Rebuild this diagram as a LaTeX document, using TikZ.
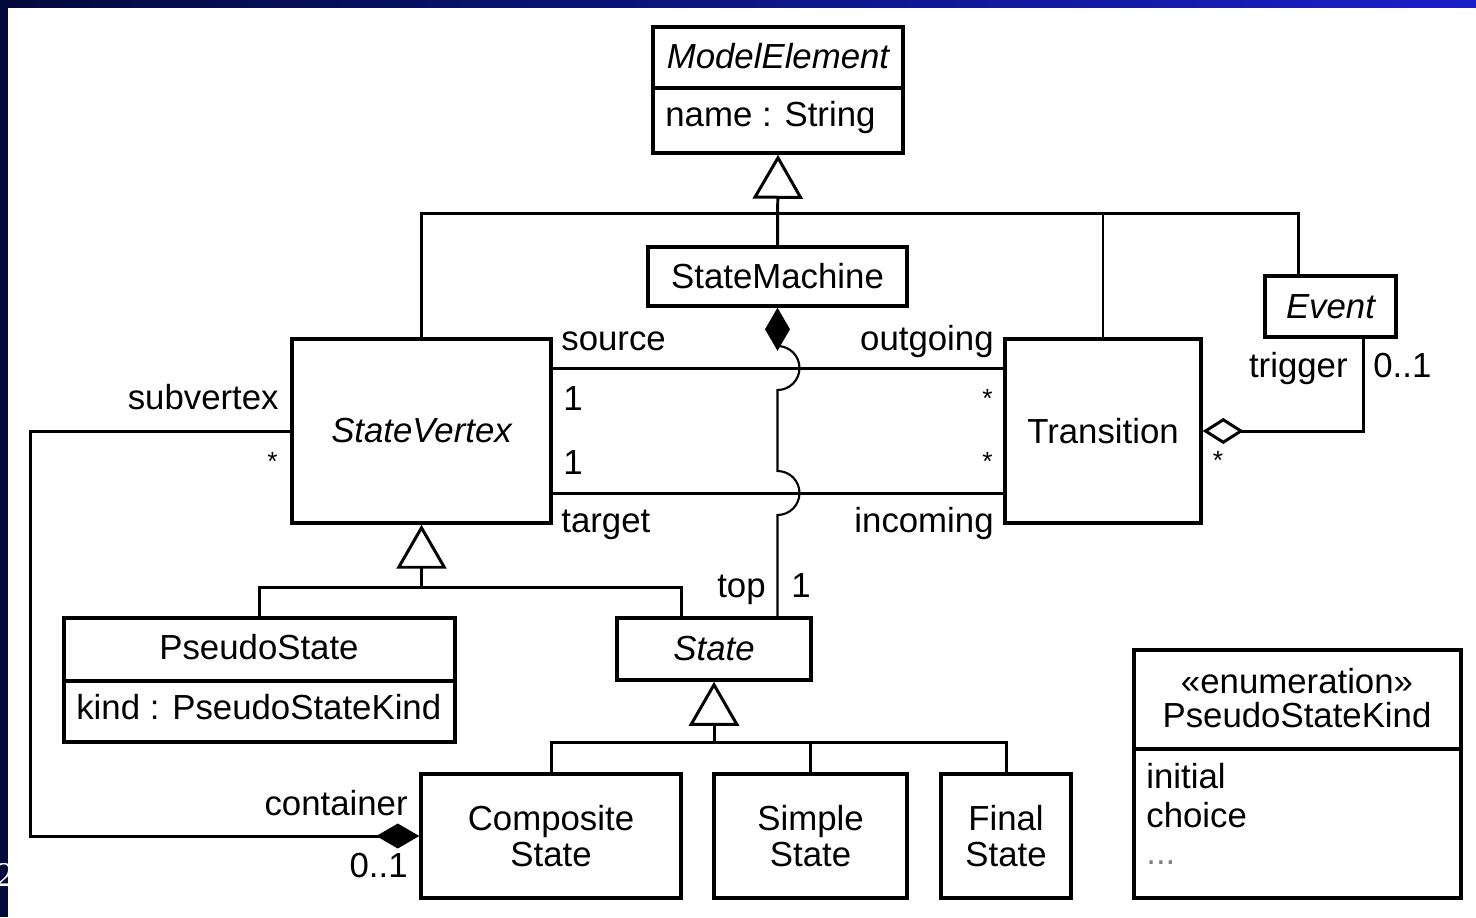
\documentclass[tikz,border=0pt]{standalone}
\usepackage{fontspec}
\setmainfont{Liberation Sans}
\newfontfamily\slidefont{Liberation Serif}
\usetikzlibrary{arrows.meta}
\definecolor{navy}{RGB}{2,10,60}
\definecolor{slideblue}{RGB}{26,32,200}
\begin{document}
\fontsize{19.8}{21}\selectfont
\begin{tikzpicture}[x=0.02cm,y=-0.02cm,
  cls/.style={draw,line width=2pt,fill=white,inner sep=0pt,align=center},
  assoc/.style={line width=1.7pt},
  thinline/.style={line width=1.2pt},
  gen/.style={line width=1.7pt,-{Triangle[open,length=0.88cm,width=1cm]}},
  comp/.style={{Diamond[length=0.86cm,width=0.5cm]}-},
  aggr/.style={line width=1.7pt,{Diamond[open,length=0.82cm,width=0.52cm]}-},
  lbl/.style={inner sep=0pt},
  star/.style={inner sep=0pt,font=\fontsize{15}{15}\selectfont}]

\useasboundingbox (0,0) rectangle (1476,917);
\fill[white] (0,0) rectangle (1476,917);
\fill[navy] (0,0) rectangle (8,917);
\shade[left color=navy,right color=slideblue] (0,0) rectangle (1476,7);
\begin{scope}
\clip (0,0) rectangle (8,917);
\node[lbl,white,anchor=base east,font=\slidefont] (page) at (14,886) {2};
\end{scope}

\node[cls,minimum width=5cm,minimum height=2.52cm] (me) at (778,90) {};
\draw[line width=2pt] (me.west |- 0,88) -- (me.east |- 0,88);
\node[lbl,anchor=base,font=\itshape] (metitle) at (778,68) {ModelElement};
\node[lbl,anchor=base west] (meattr) at (665,126) {name : String};

\node[cls,minimum width=5.18cm,minimum height=1.18cm] (sm) at (777.5,276.5) {StateMachine};
\node[cls,minimum width=5.18cm,minimum height=3.68cm,font=\itshape] (sv) at (421.5,431) {StateVertex};
\node[cls,minimum width=3.92cm,minimum height=3.68cm] (tr) at (1103,431) {Transition};
\node[cls,minimum width=2.62cm,minimum height=1.22cm,font=\itshape] (ev) at (1330.5,306.5) {Event};

\node[cls,minimum width=7.82cm,minimum height=2.48cm] (ps) at (259.5,680) {};
\draw[line width=2pt] (ps.west |- 0,681) -- (ps.east |- 0,681);
\node[lbl,anchor=base] (pstitle) at (259,659) {PseudoState};
\node[lbl,anchor=base west] (psattr) at (76,719) {kind : PseudoStateKind};

\node[cls,minimum width=3.88cm,minimum height=1.24cm,font=\itshape] (st) at (714,649) {State};
\node[cls,minimum width=5.2cm,minimum height=2.48cm] (cs) at (551,836) {Composite\\State};
\node[cls,minimum width=3.86cm,minimum height=2.48cm] (ss) at (810.5,836) {Simple\\State};
\node[cls,minimum width=2.6cm,minimum height=2.48cm] (fs) at (1006,836) {Final\\State};

\node[cls,minimum width=6.54cm,minimum height=4.96cm] (psk) at (1297.5,774) {};
\draw[line width=2pt] (psk.west |- 0,749) -- (psk.east |- 0,749);
\node[lbl,anchor=base] (pskstereo) at (1297,693) {«enumeration»};
\node[lbl,anchor=base] (psktitle) at (1297,727) {PseudoStateKind};
\node[lbl,anchor=base west] (pskinit) at (1146,788) {initial};
\node[lbl,anchor=base west] (pskchoice) at (1146,827) {choice};
\node[lbl,anchor=base west,gray] (pskmore) at (1146,864) {...};

\coordinate (genbar) at (778,213);
\coordinate (evtop) at (1298,276);
\coordinate (evbot) at (1363,337);
\coordinate (sttop) at (681,618);

\draw[gen] (sm.north) -- (me.south);
\draw[assoc] (sv.north) |- (genbar) -| (evtop);
\draw[thinline] (tr.north) -- (tr.north |- genbar);

\draw[assoc] (sv.east |- 0,368) -- (tr.west |- 0,368);
\draw[assoc] (sv.east |- 0,493) -- (tr.west |- 0,493);
\draw[comp,thinline] (sm.south) -- (sm.south |- 0,346) arc[start angle=90,end angle=-90,radius=0.44cm]
  -- (sm.south |- 0,471) arc[start angle=90,end angle=-90,radius=0.44cm] -- (sm.south |- st.north);

\draw[gen] (sv.south |- 0,587) -- (sv.south);
\draw[assoc] (ps.north) |- (sttop |- 0,587) -- (sttop);
\draw[gen] (st.south |- 0,742) -- (st.south);
\draw[assoc] (cs.north) |- (fs.north |- 0,742) -- (fs.north);
\draw[assoc] (ss.north) -- (ss.north |- 0,742);

\draw[comp,assoc] (cs.west) -- ++(-389,0) |- (sv.west);
\draw[aggr] (tr.east) -| (evbot);

\node[lbl,anchor=base west] (lsource) at (561,350) {source};
\node[lbl,anchor=base east] (loutgoing) at (994,350) {outgoing};
\node[lbl,anchor=base west] (lsrcmult) at (563,410) {1};
\node[star,anchor=base east] (loutmult) at (993,407) {*};
\node[lbl,anchor=base west] (ltgtmult) at (563,474) {1};
\node[star,anchor=base east] (linmult) at (993,470) {*};
\node[lbl,anchor=base west] (ltarget) at (561,532) {target};
\node[lbl,anchor=base east] (lincoming) at (994,532) {incoming};
\node[lbl,anchor=base east] (ltop) at (766,597) {top};
\node[lbl,anchor=base west] (ltopmult) at (791,597) {1};
\node[lbl,anchor=base east] (lsubvertex) at (279,409) {subvertex};
\node[star,anchor=base east] (lsubmult) at (278,470) {*};
\node[lbl,anchor=base east] (lcontainer) at (408,815) {container};
\node[lbl,anchor=base east] (lcontmult) at (408,877) {0..1};
\node[lbl,anchor=base east] (ltrigger) at (1348,377) {trigger};
\node[lbl,anchor=base west] (ltrigmult) at (1373,377) {0..1};
\node[star,anchor=base] (ltransmult) at (1218,469) {*};
\end{tikzpicture}
\end{document}
